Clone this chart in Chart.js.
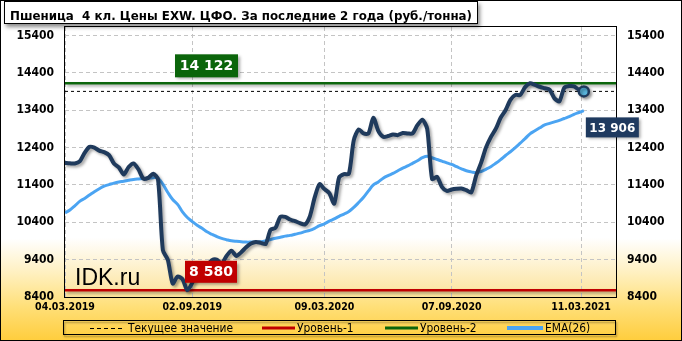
<!DOCTYPE html>
<html><head><meta charset="utf-8">
<script src="https://cdn.jsdelivr.net/npm/chart.js@4.4.1/dist/chart.umd.min.js"></script>
<style>html,body{margin:0;padding:0;background:#fff;}canvas{display:block;}</style>
</head><body>
<canvas id="c" width="682" height="341"></canvas>
<script>
// ---------- data ----------
const TITLE = 'Пшеница  4 кл. Цены EXW. ЦФО. За последние 2 года (руб./тонна)';
const START_DATE = '2019-03-04';      // first weekly observation
const AXIS_END_DATE = '2021-04-30';   // right end of the time axis
const PRICE = [
  11990,11980,11975,12030,12260,12420,12400,12320,12280,12200,
  11975,11870,11680,11880,11975,11820,11570,11590,11700,11550,
  9650,9400,8760,8950,8880,8580,8780,9050,9150,9250,
  9384,9400,9300,9500,9640,9500,9600,9730,9830,9875,
  9850,9820,10200,10250,10545,10545,10475,10430,10380,10340,
  10550,11060,11420,11290,11180,10900,11600,11690,11700,12600,
  12888,12780,12780,13200,12850,12690,12710,12750,12735,12790,
  12780,12780,13000,13150,12900,11560,11620,11350,11240,11280,
  11300,11306,11260,11200,11650,11990,12400,12680,12900,13200,
  13400,13680,13810,13810,14020,14122,14080,14030,13990,13950,
  13719,13640,14000,14049,14040,13950,13906
];
const EMA26 = [
  10650,10730,10840,10960,11040,11130,11220,11300,11370,11410,
  11450,11480,11500,11525,11547,11560,11570,11578,11595,11580,
  11420,11200,11010,10880,10680,10530,10420,10320,10240,10145,
  10080,10020,9970,9935,9905,9890,9880,9870,9870,9872,
  9880,9905,9940,9975,10000,10030,10050,10080,10110,10150,
  10185,10240,10310,10360,10430,10490,10560,10620,10690,10800,
  10930,11070,11240,11400,11480,11580,11650,11710,11780,11850,
  11910,11980,12050,12130,12170,12130,12083,12040,11990,11950,
  11890,11830,11780,11750,11730,11760,11820,11890,11980,12080,
  12190,12290,12400,12520,12640,12770,12850,12930,13010,13050,
  13090,13130,13180,13230,13290,13340,13390
];
const LEVEL_1 = 8580;
const LEVEL_2 = 14122;
const CURRENT = 13906;
const X_TICK_LABELS = ['04.03.2019','02.09.2019','09.03.2020','07.09.2020','11.03.2021'];
const Y_TICKS = [8400,9400,10400,11400,12400,13400,14400,15400];
const Y_MIN = 8400, Y_MAX = 15630;
const LEGEND_LABELS = ['Текущее значение','Уровень-1','Уровень-2','EMA(26)'];
const WATERMARK = 'IDK.ru';

// ---------- helpers ----------
const DAY = 86400000;
const t0 = Date.parse(START_DATE + 'T00:00:00Z');
const DATES = PRICE.map((_, i) => new Date(t0 + i * 7 * DAY));
const dayIndex = d => Math.round((d - t0) / DAY);
const parseDMY = s => { const [d, m, y] = s.split('.').map(Number); return Date.UTC(y, m - 1, d); };
const X_DAYS = DATES.map(d => dayIndex(d.getTime()));
const X_TICKS = X_TICK_LABELS.map(s => dayIndex(parseDMY(s)));
const X_END = dayIndex(Date.parse(AXIS_END_DATE + 'T00:00:00Z'));
const fmt = v => String(v).replace(/\B(?=(\d{3})+(?!\d))/g, ' ');

const NAVY = '#1f3a5c', EMA_C = '#4ba4f2', GREEN = '#0b650b', RED = '#c00000';
const LABEL_FONT = '"DejaVu Sans Condensed", "DejaVu Sans", sans-serif';

function shadowOn(ctx) {
  ctx.shadowColor = 'rgba(0,0,0,0.35)'; ctx.shadowBlur = 3; ctx.shadowOffsetX = 2; ctx.shadowOffsetY = 2;
}
function scaledText(ctx, text, x, y, targetW) {
  const w = ctx.measureText(text).width;
  ctx.save(); ctx.translate(x, y); ctx.scale(targetW ? targetW / w : 1, 1); ctx.fillText(text, 0, 0); ctx.restore();
}
function box(ctx, x, y, w, h, color, text, font) {
  ctx.save(); shadowOn(ctx); ctx.fillStyle = color; ctx.fillRect(x, y, w, h); ctx.restore();
  ctx.save(); ctx.fillStyle = '#fff'; ctx.font = font; ctx.textAlign = 'center'; ctx.textBaseline = 'middle';
  ctx.fillText(text, x + w / 2, y + h / 2 + 1); ctx.restore();
}

const deco = {
  id: 'deco',
  beforeDraw(chart) {
    const { ctx, chartArea: a, width: W, height: H } = chart;
    ctx.save();
    let g = ctx.createLinearGradient(0, 0, 0, H);
    g.addColorStop(0, '#ffffff'); g.addColorStop(0.70, '#ffffff');
    g.addColorStop(0.80, '#fff0c0'); g.addColorStop(0.90, '#ffdf78'); g.addColorStop(1, '#ffcd3c');
    ctx.fillStyle = g; ctx.fillRect(0, 0, W, H);
    g = ctx.createLinearGradient(0, a.top, 0, a.bottom);
    g.addColorStop(0, '#ffffff'); g.addColorStop(0.78, '#ffffff'); g.addColorStop(1, '#fce39a');
    ctx.fillStyle = g; ctx.fillRect(a.left, a.top, a.width, a.height);
    ctx.restore();
  },
  beforeDatasetDraw(chart, args) {
    if (chart.data.datasets[args.index].shadow) { chart.ctx.save(); shadowOn(chart.ctx); }
  },
  afterDatasetDraw(chart, args) {
    if (chart.data.datasets[args.index].shadow) chart.ctx.restore();
  },
  afterDraw(chart) {
    const { ctx, chartArea: a, width: W, height: H } = chart;
    const xs = chart.scales.x, ys = chart.scales.y;
    ctx.save();
    // plot border
    ctx.strokeStyle = '#000'; ctx.lineWidth = 1;
    ctx.strokeRect(a.left - 0.5, a.top - 0.5, a.width + 1, a.height + 1);
    // watermark
    ctx.fillStyle = '#000'; ctx.font = '23px "Liberation Sans", Arial, sans-serif';
    ctx.textBaseline = 'alphabetic'; ctx.fillText(WATERMARK, a.left + 10, 284.5);
    // level labels
    const y2 = ys.getPixelForValue(LEVEL_2), y1 = ys.getPixelForValue(LEVEL_1);
    const lf = 'bold 14px "DejaVu Sans", sans-serif';
    box(ctx, a.left + 110, y2 - 29, 63, 23, GREEN, fmt(LEVEL_2), lf);
    box(ctx, a.left + 120, y1 - 29.5, 52, 22, RED, fmt(LEVEL_1), lf);
    const lx = xs.getPixelForValue(X_DAYS[X_DAYS.length - 1]);
    const ly = ys.getPixelForValue(CURRENT);
    box(ctx, lx + 2, ly + 26, 53, 20, '#1f3a5f', fmt(CURRENT), 'bold 12px "DejaVu Sans", sans-serif');
    // title box
    ctx.save(); ctx.shadowColor = 'rgba(0,0,0,0.45)'; ctx.shadowBlur = 4; ctx.shadowOffsetX = 2; ctx.shadowOffsetY = 3;
    ctx.fillStyle = '#fff'; ctx.fillRect(4, 1, 474, 23); ctx.restore();
    ctx.strokeStyle = '#000'; ctx.strokeRect(4.5, 1.5, 473, 22);
    ctx.fillStyle = '#000'; ctx.font = 'bold 13px "DejaVu Sans", sans-serif'; ctx.textBaseline = 'alphabetic';
    scaledText(ctx, TITLE, 10, 19.5, 462);
    // legend
    ctx.save(); ctx.shadowColor = 'rgba(0,0,0,0.4)'; ctx.shadowBlur = 2; ctx.shadowOffsetX = 1; ctx.shadowOffsetY = 2;
    ctx.strokeStyle = '#000'; ctx.strokeRect(63.5, 320.5, 552, 14); ctx.restore();
    ctx.strokeStyle = '#000'; ctx.strokeRect(63.5, 320.5, 552, 14);
    const ly0 = 328;
    ctx.lineCap = 'butt';
    ctx.setLineDash([4, 3]); ctx.lineWidth = 1; ctx.beginPath(); ctx.moveTo(90, ly0 + 0.5); ctx.lineTo(123, ly0 + 0.5); ctx.stroke();
    ctx.setLineDash([]);
    const seg = (x0, x1, c, w) => { ctx.strokeStyle = c; ctx.lineWidth = w; ctx.beginPath(); ctx.moveTo(x0, ly0); ctx.lineTo(x1, ly0); ctx.stroke(); };
    seg(262, 295, RED, 3); seg(385, 418, GREEN, 3); seg(507, 543, EMA_C, 4);
    ctx.fillStyle = '#000'; ctx.font = '12px "DejaVu Sans", sans-serif'; ctx.textBaseline = 'middle';
    const sx = 105 / ctx.measureText(LEGEND_LABELS[0]).width;
    [[128], [297], [420], [545]].forEach(([x], i) => {
      ctx.save(); ctx.translate(x, ly0 + 0.5); ctx.scale(sx, 1); ctx.fillText(LEGEND_LABELS[i], 0, 0); ctx.restore();
    });
    // outer frame
    ctx.strokeStyle = '#000'; ctx.lineWidth = 1; ctx.strokeRect(0.5, 0.5, W - 1, H - 1);
    ctx.restore();
  }
};

const yCommon = {
  type: 'linear', min: Y_MIN, max: Y_MAX,
  afterBuildTicks: s => { s.ticks = Y_TICKS.map(v => ({ value: v })); },
  ticks: { color: '#000', padding: 11, callback: v => String(v),
    font: { family: LABEL_FONT, weight: 'bold', size: 12 } },
  border: { display: false, dash: [4, 3] }
};

new Chart(document.getElementById('c'), {
  type: 'line',
  data: {
    datasets: [
      { label: 'Цена', data: PRICE.map((v, i) => ({ x: X_DAYS[i], y: v })), borderColor: NAVY, borderWidth: 4,
        tension: 0.25, borderCapStyle: 'round', borderJoinStyle: 'round',
        pointRadius: c => c.dataIndex === PRICE.length - 1 ? 5 : 0,
        pointBackgroundColor: '#5ab6dd', pointBorderColor: NAVY, pointBorderWidth: 2.5, shadow: true, order: 0 },
      { label: LEGEND_LABELS[3], data: EMA26.map((v, i) => ({ x: X_DAYS[i], y: v })), borderColor: EMA_C, borderWidth: 3,
        tension: 0.4, pointRadius: 0, order: 1 },
      { label: LEGEND_LABELS[2], data: [{ x: 0, y: LEVEL_2 }, { x: X_END, y: LEVEL_2 }], borderColor: GREEN, borderWidth: 2.5,
        pointRadius: 0, shadow: true, order: 2 },
      { label: LEGEND_LABELS[1], data: [{ x: 0, y: LEVEL_1 }, { x: X_END, y: LEVEL_1 }], borderColor: RED, borderWidth: 2.5,
        pointRadius: 0, shadow: true, order: 2 },
      { label: LEGEND_LABELS[0], data: [{ x: 0, y: CURRENT }, { x: X_END, y: CURRENT }], borderColor: '#000', borderWidth: 1,
        borderDash: [3, 3], pointRadius: 0, order: 3 }
    ]
  },
  options: {
    responsive: false, animation: false, devicePixelRatio: 1,
    layout: { padding: { top: 27, left: 0, right: 0, bottom: 0 } },
    plugins: { legend: { display: false }, tooltip: { enabled: false } },
    scales: {
      x: {
        type: 'linear', min: 0, max: X_END,
        afterBuildTicks: s => { s.ticks = X_TICKS.map(v => ({ value: v })); },
        afterFit: s => { s.height = 44; },
        ticks: { color: '#000', padding: 4, maxRotation: 0, autoSkip: false,
          callback: (v, i) => X_TICK_LABELS[i], font: { family: LABEL_FONT, weight: 'bold', size: 10.5 } },
        grid: { color: '#c4c4c4', lineWidth: 1, drawTicks: false },
        border: { display: false, dash: [4, 3] }
      },
      y: Object.assign({}, yCommon, { position: 'left', afterFit: s => { s.width = 65; },
        grid: { color: '#c4c4c4', lineWidth: 1, drawTicks: false } }),
      y2: Object.assign({}, yCommon, { position: 'right', afterFit: s => { s.width = 66; },
        grid: { display: false, drawTicks: false } })
    }
  },
  plugins: [deco]
});
</script>
</body></html>
